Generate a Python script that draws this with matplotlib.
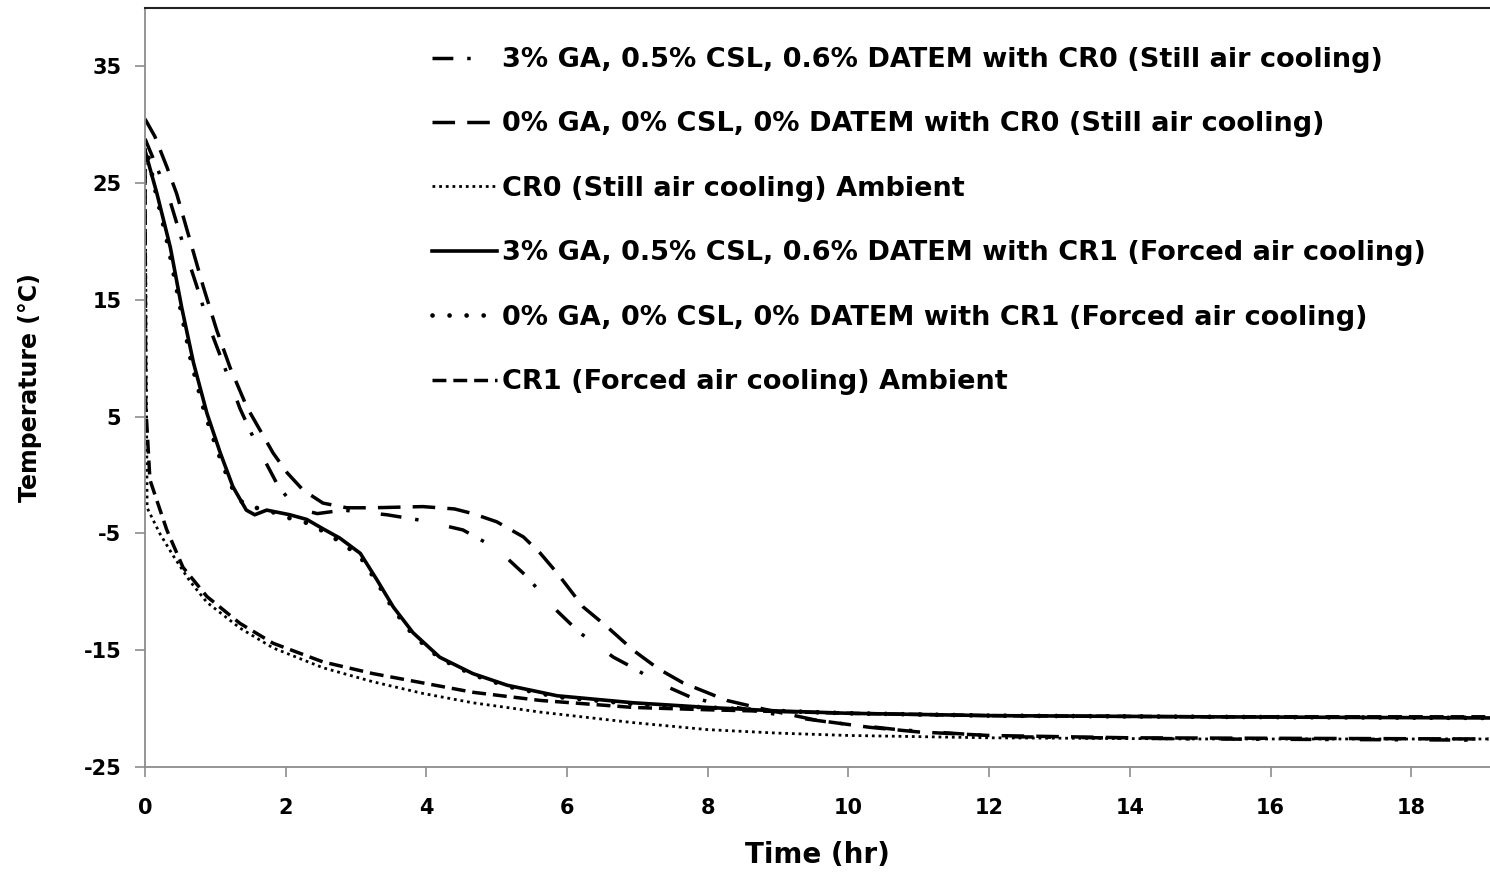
import numpy as np
import matplotlib
matplotlib.use('Agg')
import matplotlib.pyplot as plt

plt.rcParams['font.family'] = ['DejaVu Sans']
plt.rcParams['axes.unicode_minus'] = False

# ---- data (time in hr, temperature in degC) ----
# 3% GA, 0.5% CSL, 0.6% DATEM with CR0 (Still air cooling)
t_ga_cr0 = [0, 0.18, 0.36, 0.54, 0.74, 0.92, 1.14, 1.35, 1.61, 1.89, 2.06, 2.25, 2.45, 2.82,
            3.44, 3.95, 4.52, 5.0, 5.43, 5.8, 6.18, 6.66, 6.94, 7.3, 7.75, 8.2, 8.6, 9.17,
            9.78, 10.7, 12.2, 15, 19.1]
T_ga_cr0 = [28.8, 26.2, 23.4, 19.8, 16.1, 12.6, 9.1, 5.7, 2.3, -0.9, -2.2, -3.0, -3.3, -3.0,
            -3.4, -3.9, -4.7, -6.3, -8.7, -11.3, -13.5, -15.6, -16.5, -17.8, -19.0, -19.7, -20.1, -20.7,
            -21.2, -21.8, -22.4, -22.6, -22.7]
# 0% GA, 0% CSL, 0% DATEM with CR0 (Still air cooling)
t_0_cr0 = [0, 0.14, 0.31, 0.45, 0.64, 0.83, 1.02, 1.21, 1.45, 1.64, 1.82, 2.02, 2.25, 2.53,
           2.87, 3.24, 3.95, 4.4, 4.66, 5.0, 5.38, 5.62, 5.86, 6.23, 6.57, 6.94, 7.3, 7.65,
           8.27, 8.84, 9.55, 10.3, 11, 12, 14, 19.1]
T_0_cr0 = [30.5, 29.0, 26.4, 24.1, 20.1, 16.1, 12.4, 9.2, 5.8, 3.8, 1.9, 0.2, -1.3, -2.4,
           -2.8, -2.8, -2.7, -2.9, -3.3, -4.0, -5.3, -6.7, -8.4, -11.3, -13.0, -15.0, -16.6, -17.8,
           -19.3, -20.1, -21.0, -21.6, -22.0, -22.3, -22.5, -22.6]
# CR0 (Still air cooling) Ambient
t_amb_cr0 = [0, 0.03, 0.21, 0.4, 0.64, 0.88, 1.35, 1.82, 2.53, 3.24, 3.95, 4.66, 5.62, 6.94,
             8, 9, 10, 12, 15, 19.1]
T_amb_cr0 = [28.5, -2.8, -5.0, -6.9, -9.1, -10.9, -13.1, -14.8, -16.5, -17.7, -18.7, -19.5, -20.3, -21.2,
             -21.8, -22.1, -22.3, -22.5, -22.6, -22.6]
# 3% GA, 0.5% CSL, 0.6% DATEM with CR1 (Forced air cooling)
t_ga_cr1 = [0, 0.17, 0.36, 0.52, 0.69, 0.88, 1.07, 1.25, 1.44, 1.56, 1.73, 2.06, 2.3, 2.53,
            2.77, 3.06, 3.3, 3.53, 3.81, 4.19, 4.66, 5.15, 5.86, 6.94, 8, 9, 10, 12, 15, 19.1]
T_ga_cr1 = [27.8, 24.1, 19.5, 14.4, 9.6, 5.3, 1.9, -1.0, -3.0, -3.4, -3.0, -3.4, -3.8, -4.6,
            -5.4, -6.7, -9.0, -11.3, -13.5, -15.6, -17.0, -18.0, -18.9, -19.5, -19.9, -20.2, -20.4, -20.6, -20.7, -20.8]
# 0% GA, 0% CSL, 0% DATEM with CR1 (Forced air cooling)
t_0_cr1 = [0, 0.15, 0.33, 0.5, 0.66, 0.85, 1.04, 1.22, 1.4, 1.58, 1.78, 2.06, 2.3, 2.53,
           2.77, 3.06, 3.3, 3.53, 3.81, 4.19, 4.66, 5.15, 5.86, 6.94, 8, 9, 10, 12, 15, 19.1]
T_0_cr1 = [28.6, 24.3, 19.6, 14.4, 9.6, 5.3, 1.9, -0.9, -2.5, -2.8, -3.1, -3.7, -4.1, -4.8,
           -5.7, -7.0, -9.2, -11.5, -13.7, -15.7, -17.1, -18.1, -19.0, -19.6, -19.9, -20.2, -20.4, -20.6, -20.7, -20.8]
# CR1 (Forced air cooling) Ambient
t_amb_cr1 = [0, 0.01, 0.07, 0.17, 0.31, 0.54, 0.88, 1.35, 1.82, 2.53, 3.24, 3.95, 4.66, 5.62,
             6.94, 8, 10, 12, 15, 19.1]
T_amb_cr1 = [28.0, 6.0, -0.4, -2.2, -4.7, -7.9, -10.4, -12.7, -14.4, -16.0, -17.0, -17.8, -18.6, -19.3,
             -19.9, -20.1, -20.4, -20.6, -20.7, -20.7]

labels = ['3% GA, 0.5% CSL, 0.6% DATEM with CR0 (Still air cooling)',
          '0% GA, 0% CSL, 0% DATEM with CR0 (Still air cooling)',
          'CR0 (Still air cooling) Ambient',
          '3% GA, 0.5% CSL, 0.6% DATEM with CR1 (Forced air cooling)',
          '0% GA, 0% CSL, 0% DATEM with CR1 (Forced air cooling)',
          'CR1 (Forced air cooling) Ambient']

fig = plt.figure(figsize=(14.90, 8.73), dpi=100)
ax = fig.add_axes([145/1490, (873-767)/873, (1490-145)/1490, (767-8)/873])

ax.plot(t_ga_cr0, T_ga_cr0, color='black', lw=2.5, linestyle=(0, (6, 4, 1, 9)), label=labels[0])
ax.plot(t_0_cr0, T_0_cr0, color='black', lw=2.5, linestyle=(0, (6.5, 3.5)), label=labels[1])
ax.plot(t_amb_cr0, T_amb_cr0, color='black', lw=2.0, linestyle=(0, (1, 1.4)), label=labels[2])
ax.plot(t_ga_cr1, T_ga_cr1, color='black', lw=2.6, linestyle='-', label=labels[3])
ax.plot(t_0_cr1, T_0_cr1, color='black', lw=3.4, linestyle=(0, (0.01, 3.6)),
        dash_capstyle='round', label=labels[4])
ax.plot(t_amb_cr1, T_amb_cr1, color='black', lw=2.5, linestyle=(0, (4, 2)), label=labels[5])

ax.set_xlim(0, 19.12)
ax.set_ylim(-25, 40)
ax.set_xticks(np.arange(0, 19, 2))
ax.set_yticks(np.arange(-25, 36, 10))

for s in ['left', 'bottom']:
    ax.spines[s].set_color('#8c8c8c')
    ax.spines[s].set_linewidth(1.3)
ax.spines['top'].set_color('#222222')
ax.spines['top'].set_linewidth(1.5)
ax.spines['right'].set_visible(False)
ax.tick_params(axis='both', direction='out', length=7, width=1.2, color='#8c8c8c',
               labelsize=15, pad=10)
for lab in ax.get_xticklabels() + ax.get_yticklabels():
    lab.set_fontweight('bold')
ax.tick_params(axis='x', pad=15)

ax.set_xlabel('Time (hr)', fontsize=20, fontweight='bold', labelpad=17)
ax.set_ylabel('Temperature (°C)', fontsize=17, fontweight='bold', labelpad=30)

ax.legend(loc='upper left', bbox_to_anchor=(432/1490, (873-47)/873), bbox_transform=fig.transFigure,
          frameon=False, prop={'size': 19.5, 'weight': 'bold'}, handlelength=2.4,
          handletextpad=0.2, labelspacing=1.42, borderpad=0, borderaxespad=0)

fig.savefig('out.png', dpi=100)
